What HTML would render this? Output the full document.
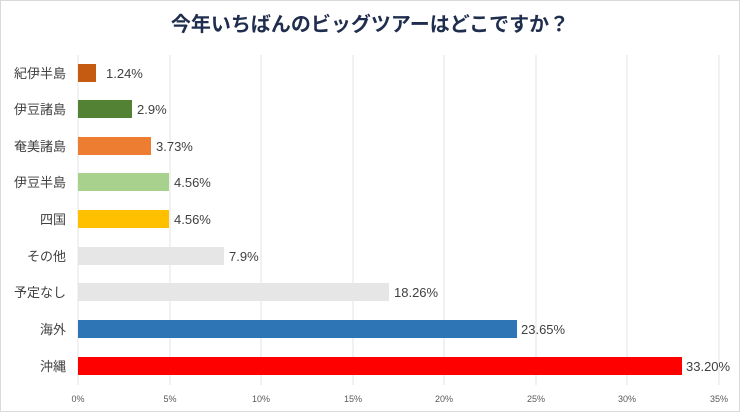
<!DOCTYPE html>
<html><head><meta charset="utf-8"><style>
body{margin:0;background:#fff;}
svg text{font-family:"Liberation Sans","Noto Sans CJK JP",sans-serif;}
</style></head><body>
<svg width="740" height="412" xmlns="http://www.w3.org/2000/svg">
<rect x="0.5" y="0.5" width="739" height="411" fill="#fff" stroke="#d9d9d9"/>
<text x="370" y="31" text-anchor="middle" font-size="20" font-weight="bold" fill="#1f2d4e">今年いちばんのビッグツアーはどこですか？</text>
<g stroke="#e3e3e3" stroke-width="1">
<line x1="78" y1="55" x2="78" y2="385"/><line x1="170" y1="55" x2="170" y2="385"/><line x1="261" y1="55" x2="261" y2="385"/><line x1="353" y1="55" x2="353" y2="385"/><line x1="444" y1="55" x2="444" y2="385"/><line x1="536" y1="55" x2="536" y2="385"/><line x1="627" y1="55" x2="627" y2="385"/><line x1="719" y1="55" x2="719" y2="385"/>
</g>
<g font-size="9" fill="#595959" text-anchor="middle">
<text x="78" y="402">0%</text><text x="170" y="402">5%</text><text x="261" y="402">10%</text><text x="353" y="402">15%</text><text x="444" y="402">20%</text><text x="536" y="402">25%</text><text x="627" y="402">30%</text><text x="719" y="402">35%</text>
</g>
<g>
<rect x="78" y="64" width="18" height="18" fill="#c55a11"/>
<rect x="78" y="100" width="54" height="18" fill="#548235"/>
<rect x="78" y="137" width="73" height="18" fill="#ed7d31"/>
<rect x="78" y="173" width="91" height="18" fill="#a9d18e"/>
<rect x="78" y="210" width="91" height="18" fill="#ffc000"/>
<rect x="78" y="247" width="146" height="18" fill="#e7e6e6"/>
<rect x="78" y="283" width="311" height="18" fill="#e7e6e6"/>
<rect x="78" y="320" width="439" height="18" fill="#2e75b6"/>
<rect x="78" y="357" width="604" height="18" fill="#ff0000"/>
</g>
<g font-size="13" fill="#404040">
<text x="106" y="78">1.24%</text>
<text x="137" y="114">2.9%</text>
<text x="156" y="151">3.73%</text>
<text x="174" y="187">4.56%</text>
<text x="174" y="224">4.56%</text>
<text x="229" y="261">7.9%</text>
<text x="394" y="297">18.26%</text>
<text x="521" y="334">23.65%</text>
<text x="686" y="371">33.20%</text>
</g>
<g font-size="13" fill="#404040" text-anchor="end">
<text x="66" y="78">紀伊半島</text>
<text x="66" y="114">伊豆諸島</text>
<text x="66" y="151">奄美諸島</text>
<text x="66" y="187">伊豆半島</text>
<text x="66" y="224">四国</text>
<text x="66" y="261">その他</text>
<text x="66" y="297">予定なし</text>
<text x="66" y="334">海外</text>
<text x="66" y="371">沖縄</text>
</g>
</svg>
</body></html>
